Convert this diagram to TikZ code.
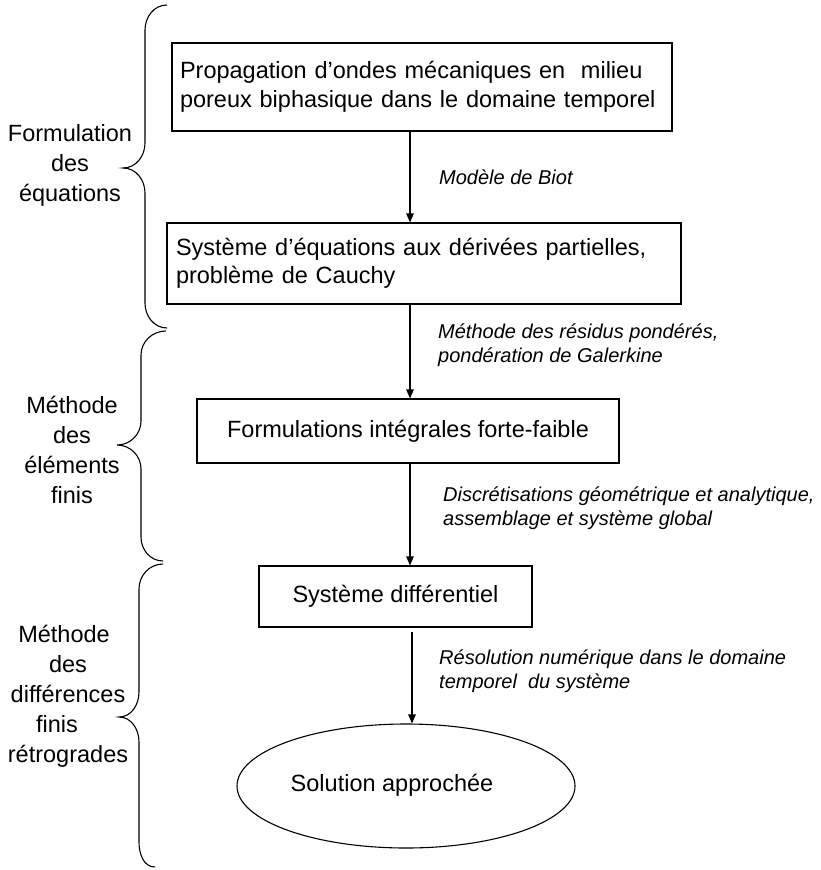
\documentclass[tikz,border=0pt]{standalone}
\usepackage{fontspec}
\setmainfont{Liberation Sans}
\usetikzlibrary{arrows.meta,shapes.geometric}

\begin{document}
\begin{tikzpicture}[x=1pt,y=-1pt,
    boite/.style={draw,line width=1.1pt,inner sep=0pt,font=\fontsize{23.5}{28.5}\selectfont},
    etiq/.style={anchor=west,align=left,inner sep=0pt,font=\fontsize{20}{23.5}\selectfont\itshape},
    groupe/.style={align=center,inner sep=0pt,font=\fontsize{23.5}{30}\selectfont},
    accolade/.style={line width=1.1pt},
    fleche/.style={-{Triangle[length=9pt,width=7.5pt]},line width=1.1pt}] %[scale=1]
      \useasboundingbox (0,0) rectangle (821,870);
      \node [boite,minimum width=500pt,minimum height=88pt,text width=484pt,align=left] (prop) at (422,87)
        {Propagation d’ondes mécaniques en \ milieu\\poreux biphasique dans le domaine temporel};
      \node [boite,minimum width=514pt,minimum height=81pt,text width=496pt,align=left] (edp) at (424,263.5)
        {Système d’équations aux dérivées partielles,\\problème de Cauchy};
      \node [boite,minimum width=422pt,minimum height=64pt] (integ) at (408,431) {Formulations intégrales forte-faible};
      \node [boite,minimum width=273pt,minimum height=61pt] (diff) at (395.5,596.5) {Système différentiel};
      \node [boite,ellipse,minimum width=338pt,minimum height=124pt] (sol) at (406,786)
        {\raisebox{6pt}{Solution approchée}\hspace*{28pt}};
      \node [etiq] (biot) at (439,177) {Modèle de Biot};
      \node [etiq] (resid) at (438,345) {Méthode des résidus pondérés,\\pondération de Galerkine};
      \node [etiq] (discr) at (443,508) {Discrétisations géométrique et analytique,\\assemblage et système global};
      \node [etiq] (resol) at (439,671) {Résolution numérique dans le domaine\\temporel \ du système};
      \node [groupe] (g1) at (70,165) {Formulation\\des\\équations};
      \node [groupe] (g2) at (72,450) {Méthode\\des\\éléments\\finis};
      \node [groupe] (g3) at (68,696) {Méthode\hspace*{8pt}\mbox{}\\des\\différences\\finis\hspace*{22pt}\mbox{}\\rétrogrades};
      \coordinate (axe) at (410,0);
      \coordinate (axe2) at (412,0);
      \draw [fleche] (prop.south -| axe) -- (edp.north -| axe);
      \draw [fleche] (edp.south -| axe) -- (integ.north -| axe);
      \draw [fleche] (integ.south -| axe) -- (diff.north -| axe);
      \draw [fleche,shorten <=4pt] (diff.south -| axe2) -- (sol.north -| axe2);
      \draw [accolade] (167,5) to [out=180,in=90] (145,30) -- (145,143) to [out=-90,in=0] (123,168)
        to [out=0,in=90] (145,193) -- (145,303) to [out=-90,in=180] (167,328);
      \draw [accolade] (166,331) to [out=180,in=90] (141,355) -- (141,421) to [out=-90,in=0] (117,445)
        to [out=0,in=90] (141,469) -- (141,537) to [out=-90,in=180] (163,561);
      \draw [accolade] (163,564) to [out=180,in=90] (139,589) -- (139,692) to [out=-90,in=0] (119,717)
        to [out=0,in=90] (139,742) -- (139,842) to [out=-90,in=180] (155,867);
    \end{tikzpicture}
\end{document}
